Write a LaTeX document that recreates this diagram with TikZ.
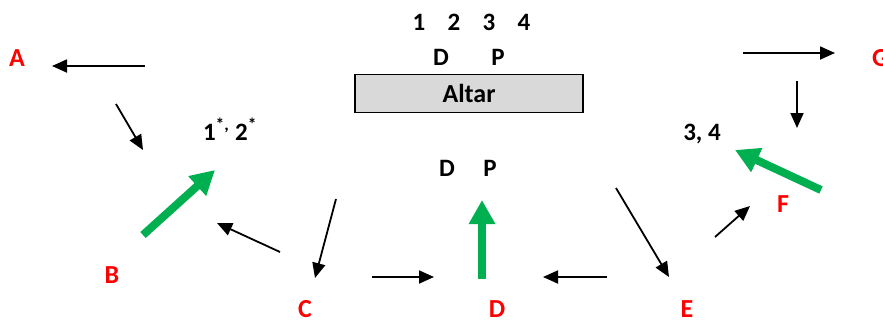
\documentclass[tikz,border=0pt]{standalone}
\usepackage{fontspec}
\setmainfont{Carlito}
\usetikzlibrary{arrows.meta}

\definecolor{moveGreen}{HTML}{00B050}
\definecolor{placeRed}{HTML}{FF0000}
\definecolor{altarGray}{HTML}{D9D9D9}

\tikzset{
	place/.style={text=placeRed, font=\bfseries\fontsize{26}{30}\selectfont, inner sep=0pt, anchor=base},
	mark label/.style={font=\bfseries\fontsize{25}{30}\selectfont, inner sep=0pt, anchor=base},
	move/.style={line width=1.8pt, -{Triangle[length=15pt,width=13pt]}},
	bigmove/.style={draw=moveGreen, line width=8pt, -{Triangle[length=24pt,width=25pt]}, fill=moveGreen}
}

\begin{document}
\begin{tikzpicture}[x=1pt, y=-1pt]
\useasboundingbox (0,0) rectangle (883,322);

% the altar and the places round it
\node[draw, line width=1.6pt, fill=altarGray, minimum width=228pt, minimum height=38pt, inner sep=0pt,
	font=\bfseries\fontsize{26}{30}\selectfont] (altar) at (469,93.5) {Altar};

\foreach \s [count=\i] in {1,...,4}
	\node[mark label] (top\s) at ({419+35*(\i-1)},30) {\s};
\node[mark label] (topD) at (441,65) {D};
\node[mark label] (topP) at (498,65) {P};
\node[mark label] (lowD) at (447,176) {D};
\node[mark label] (lowP) at (490,176) {P};
\node[mark label] (left) at (230,140) {1\textsuperscript{*,} 2\textsuperscript{*}};
\node[mark label] (right) at (702,140) {3, 4};

\node[place] (A) at (17,66) {A};
\node[place] (B) at (112,283) {B};
\node[place] (C) at (305,317) {C};
\node[place] (D) at (497,317) {D};
\node[place] (E) at (687,317) {E};
\node[place] (F) at (783,212) {F};
\node[place, anchor=base west] (G) at (872,66) {G};

% the walks
\foreach \name/\sx/\sy/\ex/\ey in {ta/145/66/52/66, ab/116/104/143/150, cb/280/252/217/223,
	lc/336/199/315/278, cd/372/277/434/277, ed/607/277/543/277, le/616/188/669/277,
	ef/715/237/750/206, tg/743/53/835/53, gr/797/81/797/128}
{
	\coordinate (\name s) at (\sx,\sy);
	\coordinate (\name e) at (\ex,\ey);
	\draw[move] (\name s) -- (\name e);
}

\foreach \name/\sx/\sy/\ex/\ey in {bl/143/235/215/170, du/482/279/482/200, fr/821/190/735/150}
{
	\coordinate (\name s) at (\sx,\sy);
	\coordinate (\name e) at (\ex,\ey);
	\draw[bigmove] (\name s) -- (\name e);
}
\end{tikzpicture}
\end{document}
